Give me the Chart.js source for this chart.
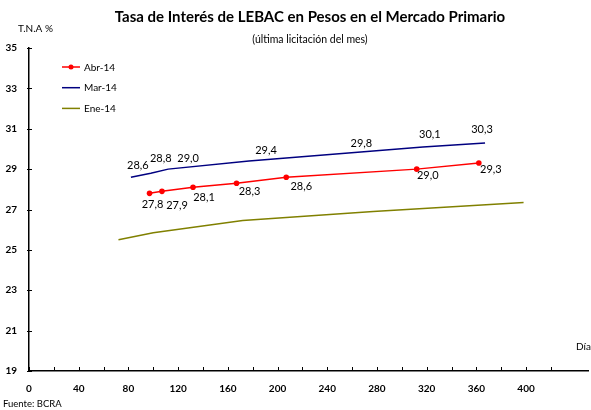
<!DOCTYPE html>
<html>
<head>
<meta charset="utf-8">
<script src="https://cdn.jsdelivr.net/npm/chart.js@4.4.1/dist/chart.umd.min.js"></script>
<style>
  html, body { margin: 0; padding: 0; background: #fff; }
  #contenedor { width: 591px; height: 410px; }
</style>
</head>
<body>
<div id="contenedor"><canvas id="grafico" width="591" height="410"></canvas></div>
<script>
// Datos (días de plazo vs. T.N.A %)
const nombres = ["Abr-14", "Mar-14", "Ene-14"];
const diasAbr = [97, 107, 132, 167, 207, 312, 362];
const tasaAbr = [27.8, 27.9, 28.1, 28.3, 28.6, 29.0, 29.3];
const diasMar = [82, 98, 112, 177, 257, 317, 367];
const tasaMar = [28.6, 28.8, 29.0, 29.4, 29.8, 30.1, 30.3];
const diasEne = [72, 100, 172, 277, 398];
const tasaEne = [25.5, 25.85, 26.45, 26.9, 27.35];
const ticksY = [19, 21, 23, 25, 27, 29, 31, 33, 35];

const FUENTE = "Lato, 'Open Sans', sans-serif";
const colores = ["#FF0000", "#000080", "#808000"];

// corrimiento de cada etiqueta respecto de su punto (como en el original)
const corrAbr = [[3, 11], [15, 14], [11, 10], [13, 8], [15, 9], [11, 6], [12, 6]];
const corrMar = [[7, -12], [10, -15], [20, -11], [17, -11], [13, -10], [7, -12], [-3, -13]];

function puntos(dias, tasas) {
  return dias.map((d, i) => ({ x: d, y: tasas[i] }));
}

function formatoTasa(v) {
  return v.toFixed(1).replace(".", ",");
}

const decoracion = {
  id: "decoracion",
  afterDatasetsDraw(chart) {
    const ctx = chart.ctx;
    ctx.save();
    ctx.font = "11px " + FUENTE;
    ctx.fillStyle = "#000";
    ctx.textAlign = "center";
    ctx.textBaseline = "middle";
    chart.getDatasetMeta(0).data.forEach((p, i) => {
      ctx.fillText(formatoTasa(tasaAbr[i]), p.x + corrAbr[i][0], p.y + corrAbr[i][1]);
    });
    chart.getDatasetMeta(1).data.forEach((p, i) => {
      ctx.fillText(formatoTasa(tasaMar[i]), p.x + corrMar[i][0], p.y + corrMar[i][1]);
    });
    ctx.restore();
  },
  afterDraw(chart) {
    const { ctx, chartArea, scales: { x, y } } = chart;
    ctx.save();
    ctx.strokeStyle = "#000";
    ctx.lineWidth = 1;
    x.ticks.forEach(t => {
      const px = Math.round(x.getPixelForValue(t.value)) + 0.5;
      ctx.beginPath();
      ctx.moveTo(px, chartArea.bottom);
      ctx.lineTo(px, chartArea.bottom - 4);
      ctx.stroke();
    });
    y.ticks.forEach(t => {
      const py = Math.round(y.getPixelForValue(t.value)) + 0.5;
      ctx.beginPath();
      ctx.moveTo(chartArea.left - 2, py);
      ctx.lineTo(chartArea.left + 3, py);
      ctx.stroke();
    });

    ctx.fillStyle = "#000";
    ctx.textBaseline = "middle";
    ctx.textAlign = "center";
    ctx.font = "bold 15px " + FUENTE;
    ctx.fillText("Tasa de Interés de LEBAC en Pesos en el Mercado Primario", 310, 17);
    ctx.font = "10.5px " + FUENTE;
    ctx.fillText("(última licitación del mes)", 310, 40);

    ctx.textAlign = "left";
    ctx.font = "10px " + FUENTE;
    ctx.fillText("T.N.A %", 18, 29);
    ctx.fillText("Días", 576, 347);
    ctx.font = "9.5px " + FUENTE;
    ctx.fillText("Fuente: BCRA", 3, 404);

    // leyenda
    ctx.font = "10px " + FUENTE;
    nombres.forEach((n, i) => {
      const ly = 67 + i * 20.7;
      ctx.strokeStyle = colores[i];
      ctx.lineWidth = 1.5;
      ctx.beginPath();
      ctx.moveTo(62, ly);
      ctx.lineTo(80, ly);
      ctx.stroke();
      if (i === 0) {
        ctx.fillStyle = colores[i];
        ctx.beginPath();
        ctx.arc(71, ly, 2.5, 0, Math.PI * 2);
        ctx.fill();
      }
      ctx.fillStyle = "#000";
      ctx.fillText(n, 84, ly + 0.5);
    });
    ctx.restore();
  }
};

new Chart(document.getElementById("grafico"), {
  type: "scatter",
  data: {
    datasets: [
      {
        label: nombres[0],
        data: puntos(diasAbr, tasaAbr),
        showLine: true,
        borderColor: colores[0],
        backgroundColor: colores[0],
        borderWidth: 1.5,
        pointRadius: 2.8,
        pointBorderWidth: 0,
        pointHoverRadius: 2.8
      },
      {
        label: nombres[1],
        data: puntos(diasMar, tasaMar),
        showLine: true,
        borderColor: colores[1],
        backgroundColor: colores[1],
        borderWidth: 1.5,
        pointRadius: 0
      },
      {
        label: nombres[2],
        data: puntos(diasEne, tasaEne),
        showLine: true,
        borderColor: colores[2],
        backgroundColor: colores[2],
        borderWidth: 1.5,
        pointRadius: 0
      }
    ]
  },
  options: {
    responsive: false,
    animation: false,
    events: [],
    layout: { padding: { top: 48, right: 0, left: 0, bottom: 0 } },
    plugins: { legend: { display: false }, tooltip: { enabled: false } },
    scales: {
      x: {
        type: "linear",
        min: 0,
        max: 450,
        grid: { display: false, drawTicks: false },
        border: { display: true, color: "#000", width: 1.5 },
        afterBuildTicks: s => { s.ticks = s.ticks.filter(t => t.value % 20 === 0); },
        afterFit: s => { s.height = 39; },
        ticks: {
          stepSize: 20,
          autoSkip: false,
          maxRotation: 0,
          padding: 12,
          color: "#000",
          font: { family: FUENTE, size: 10, weight: "bold" },
          callback: v => (v % 40 === 0 ? v : "")
        }
      },
      y: {
        min: 19,
        max: 35,
        grid: { display: false, drawTicks: false },
        border: { display: true, color: "#000", width: 1.5 },
        afterBuildTicks: s => { s.ticks = ticksY.map(v => ({ value: v })); },
        afterFit: s => { s.width = 29; },
        ticks: {
          padding: 12,
          color: "#000",
          font: { family: FUENTE, size: 10, weight: "bold" }
        }
      }
    }
  },
  plugins: [decoracion]
});
</script>
</body>
</html>
